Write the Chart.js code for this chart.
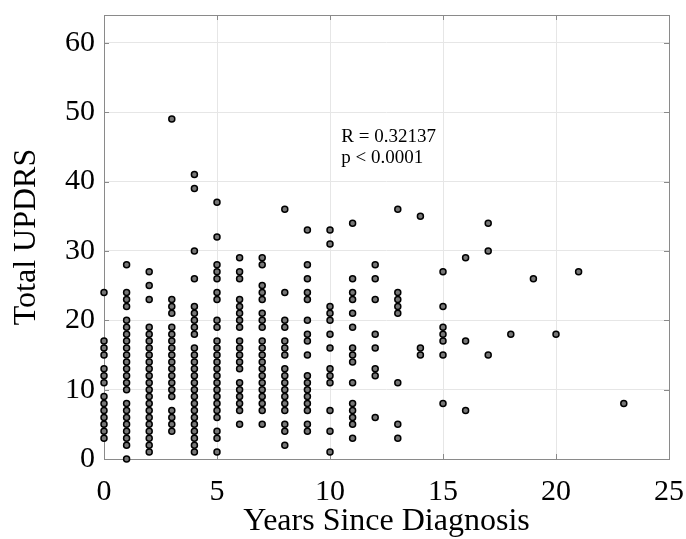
<!DOCTYPE html>
<html>
<head>
<meta charset="utf-8">
<script src="https://cdn.jsdelivr.net/npm/chart.js@4.4.1/dist/chart.umd.min.js"></script>
<style>
  html, body { margin: 0; padding: 0; background: #fff; }
  #plot { display: block; }
</style>
</head>
<body>
<canvas id="plot" width="686" height="539"></canvas>
<script>
// disease duration (years) and the UPDRS totals recorded at each duration
const years = [0, 1, 2, 3, 4, 5, 6, 7, 8, 9, 10, 11, 12, 13, 14, 15, 16, 17, 18, 19, 20, 21, 23];
const updrs = [
  [24, 17, 16, 15, 13, 12, 11, 9, 8, 7, 6, 5, 4, 3],
  [28, 24, 23, 22, 20, 19, 18, 17, 16, 15, 14, 13, 12, 11, 10, 8, 7, 6, 5, 4, 3, 2, 0],
  [27, 25, 23, 19, 18, 17, 16, 15, 14, 13, 12, 11, 10, 9, 8, 7, 6, 5, 4, 3, 2, 1],
  [49, 23, 22, 21, 19, 18, 17, 16, 15, 14, 13, 12, 11, 10, 9, 7, 6, 5, 4],
  [41, 39, 30, 26, 22, 21, 20, 19, 18, 16, 15, 14, 13, 12, 11, 10, 9, 8, 7, 6, 5, 4, 3, 2, 1],
  [37, 32, 28, 27, 26, 24, 23, 20, 19, 17, 16, 15, 14, 13, 12, 11, 10, 9, 8, 7, 6, 4, 3, 1],
  [29, 27, 26, 23, 22, 21, 20, 19, 17, 16, 15, 14, 13, 11, 10, 9, 8, 7, 5],
  [29, 28, 25, 24, 23, 21, 20, 19, 17, 16, 15, 14, 13, 12, 11, 10, 9, 8, 7, 5],
  [36, 24, 20, 19, 17, 16, 15, 13, 12, 11, 10, 9, 8, 7, 5, 4, 2],
  [33, 28, 26, 24, 23, 20, 18, 17, 15, 12, 11, 10, 9, 8, 7, 5, 4],
  [33, 31, 22, 21, 20, 18, 16, 13, 12, 11, 7, 4, 1],
  [34, 26, 24, 23, 21, 19, 16, 15, 14, 11, 8, 7, 6, 5, 3],
  [28, 26, 23, 18, 16, 13, 12, 6],
  [36, 24, 23, 22, 21, 11, 5, 3],
  [35, 16, 15],
  [27, 22, 19, 18, 17, 15, 8],
  [29, 17, 7],
  [34, 30, 15],
  [18],
  [26],
  [18],
  [27],
  [8]
];

const xTicks = [0, 5, 10, 15, 20, 25];
const yTicks = [0, 10, 20, 30, 40, 50, 60];
const statLines = ['R = 0.32137', 'p < 0.0001'];
const statAnchor = { x: 10.5, y: 45.7 };

const points = years.flatMap((yr, i) => updrs[i].map(v => ({ x: yr, y: v })));

const SERIF = '"Liberation Serif", "Times New Roman", serif';
const FRAME = '#8a8a8a';

// box around the axes with short inward tick marks on every side
const framePlugin = {
  id: 'frame',
  beforeDatasetsDraw(chart) {
    const { ctx, chartArea: a, scales: { x, y } } = chart;
    const len = 5;
    ctx.save();
    ctx.strokeStyle = FRAME;
    ctx.lineWidth = 1;
    ctx.beginPath();
    xTicks.forEach(v => {
      const px = Math.round(x.getPixelForValue(v)) + 0.5;
      ctx.moveTo(px, a.bottom); ctx.lineTo(px, a.bottom - len);
      ctx.moveTo(px, a.top); ctx.lineTo(px, a.top + len);
    });
    yTicks.forEach(v => {
      const py = Math.round(y.getPixelForValue(v)) + 0.5;
      ctx.moveTo(a.left, py); ctx.lineTo(a.left + len, py);
      ctx.moveTo(a.right, py); ctx.lineTo(a.right - len, py);
    });
    ctx.stroke();
    ctx.strokeRect(Math.round(a.left) + 0.5, Math.round(a.top) + 0.5,
      Math.round(a.right - a.left), Math.round(a.bottom - a.top));
    ctx.restore();
  }
};

// correlation result written inside the plot
const statsPlugin = {
  id: 'stats',
  afterDraw(chart) {
    const { ctx, scales: { x, y } } = chart;
    ctx.save();
    ctx.font = '19px ' + SERIF;
    ctx.fillStyle = '#000';
    ctx.textBaseline = 'alphabetic';
    const px = x.getPixelForValue(statAnchor.x);
    const py = y.getPixelForValue(statAnchor.y);
    statLines.forEach((t, i) => ctx.fillText(t, px, py + i * 21));
    ctx.restore();
  }
};

new Chart(document.getElementById('plot'), {
  type: 'scatter',
  data: {
    datasets: [{
      data: points,
      pointRadius: 3,
      pointHoverRadius: 3,
      pointBackgroundColor: '#777',
      pointBorderColor: '#000',
      pointBorderWidth: 1.5,
      clip: false
    }]
  },
  options: {
    responsive: false,
    animation: false,
    devicePixelRatio: 1,
    layout: { padding: { top: 15, right: 17, left: 0, bottom: 0 } },
    plugins: { legend: { display: false }, tooltip: { enabled: false } },
    scales: {
      x: {
        type: 'linear',
        min: 0,
        max: 25,
        afterBuildTicks: s => { s.ticks = xTicks.map(v => ({ value: v })); },
        afterFit: s => { s.height = 80; s.paddingLeft = 0; s.paddingRight = 0; },
        border: { display: false },
        grid: { color: '#e6e6e6', drawTicks: false },
        ticks: { color: '#000', font: { family: SERIF, size: 30 }, padding: 15, maxRotation: 0 },
        title: {
          display: true,
          text: 'Years Since Diagnosis',
          color: '#000',
          font: { family: SERIF, size: 32 },
          padding: { top: 0, bottom: -2 }
        }
      },
      y: {
        min: 0,
        max: 64,
        afterBuildTicks: s => { s.ticks = yTicks.map(v => ({ value: v })); },
        afterFit: s => { s.width = 104; s.paddingTop = 0; s.paddingBottom = 0; },
        border: { display: false },
        grid: { color: '#e6e6e6', drawTicks: false },
        ticks: { color: '#000', font: { family: SERIF, size: 30 }, padding: 9 },
        title: {
          display: true,
          text: 'Total UPDRS',
          color: '#000',
          font: { family: SERIF, size: 32 },
          padding: { top: 7, bottom: 0 }
        }
      }
    }
  },
  plugins: [framePlugin, statsPlugin]
});
</script>
</body>
</html>
